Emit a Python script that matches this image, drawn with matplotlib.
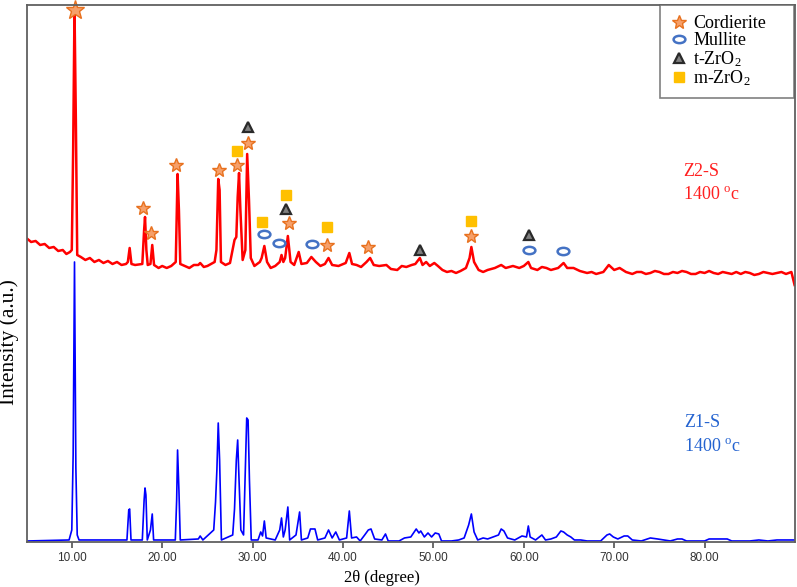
import numpy as np
import matplotlib
matplotlib.use("Agg")
import matplotlib.pyplot as plt
from matplotlib.lines import Line2D
from matplotlib.path import Path
from matplotlib.transforms import Affine2D

plt.rcParams['font.family'] = ['Liberation Serif', 'DejaVu Serif']
plt.rcParams['mathtext.fontset'] = 'custom'
plt.rcParams['mathtext.rm'] = 'Liberation Serif'
plt.rcParams['mathtext.it'] = 'Liberation Serif:italic'

# Z1-S pattern (2theta, intensity a.u.)
z1_pts = [(5.1, 1), (9.7, 2), (10.0, 12), (10.15, 87), (10.3, 280), (10.45, 74), (10.6, 7), (10.8, 2),
          (16.1, 2), (16.3, 32), (16.4, 33), (16.55, 2), (17.8, 2), (18.0, 42), (18.1, 54), (18.2, 47),
          (18.35, 2), (18.7, 12), (18.9, 28), (19.05, 2), (21.45, 2), (21.6, 42), (21.7, 92), (21.85, 52),
          (22.0, 2), (24.0, 3), (24.2, 6), (24.5, 2), (25.7, 12), (25.9, 40), (26.05, 72), (26.2, 119),
          (26.35, 82), (26.55, 2), (27.8, 7), (28.0, 33), (28.2, 82), (28.35, 102), (28.5, 62), (28.7, 12),
          (29.0, 7), (29.2, 72), (29.35, 124), (29.5, 122), (29.65, 62), (29.85, 2), (30.6, 2), (30.9, 10),
          (31.1, 6), (31.3, 21), (31.5, 4), (32.5, 2), (33.0, 12), (33.2, 24), (33.4, 5), (33.6, 12),
          (33.9, 35), (34.1, 2), (34.8, 7), (35.2, 30), (35.4, 2), (36.1, 4), (36.4, 13), (36.9, 13),
          (37.2, 2), (38.0, 4), (38.4, 12), (38.8, 4), (39.2, 10), (39.6, 2), (40.4, 4), (40.7, 31),
          (40.95, 4), (41.5, 5), (41.9, 1), (42.4, 7), (42.8, 12), (43.1, 13), (43.5, 3), (44.3, 2),
          (44.7, 8), (45.0, 1), (46.2, 1), (46.8, 4), (47.5, 5), (48.1, 13), (48.4, 9), (48.6, 11),
          (49.0, 5), (49.4, 9), (49.8, 5), (50.2, 9), (50.6, 8), (50.9, 1), (52.0, 1), (52.8, 2),
          (53.4, 4), (53.9, 17), (54.2, 28), (54.5, 10), (54.9, 2), (55.5, 4), (56.0, 3), (56.6, 5),
          (57.2, 7), (57.5, 13), (57.8, 11), (58.2, 4), (59.0, 2), (59.8, 6), (60.3, 5), (60.5, 16),
          (60.7, 5), (61.3, 2), (62.0, 7), (62.4, 2), (63.0, 3), (63.6, 5), (64.1, 11), (64.4, 10),
          (64.8, 7), (65.2, 5), (65.6, 2), (66.3, 2), (67.0, 1), (68.5, 1), (69.2, 7), (69.5, 8),
          (69.9, 5), (70.4, 3), (71.1, 6), (71.5, 6), (72.0, 2), (73.0, 1), (74.0, 4), (74.8, 3),
          (75.5, 2), (76.2, 1), (77.0, 3), (77.5, 3), (78.0, 1), (80.0, 1), (80.5, 3), (81.5, 3),
          (82.5, 3), (83.0, 1), (85.0, 1), (86.0, 2), (87.0, 1), (88.0, 2), (89.0, 2), (90.0, 2)]

# Z2-S pattern, already stacked above Z1-S
z2_pts = [(5.1, 303), (5.5, 300), (6.0, 301), (6.5, 297), (7.0, 298), (7.5, 294), (8.0, 295), (8.5, 291),
          (9.0, 292), (9.4, 288), (9.8, 290), (10.0, 292), (10.15, 392),
          (10.3, 534), (10.45, 422), (10.6, 287), (11.0, 285), (11.5, 282), (12.0, 284), (12.5, 280),
          (13.0, 282), (13.5, 279), (14.0, 281), (14.5, 278),
          (15.0, 280), (15.5, 277), (16.0, 278), (16.2, 280), (16.4, 294), (16.6, 278), (17.0, 277), (17.8, 278),
          (18.0, 312), (18.1, 325), (18.25, 292), (18.4, 277), (18.7, 278), (18.9, 297), (19.1, 277),
          (19.6, 274), (20.0, 276), (20.5, 274), (21.0, 276), (21.5, 280), (21.7, 368), (21.85, 332), (22.0, 278),
          (22.5, 276), (23.0, 274),
          (23.5, 277), (24.0, 277), (24.2, 279), (24.6, 275), (25.0, 276), (25.8, 280), (26.0, 292), (26.2, 363),
          (26.35, 352), (26.5, 280), (27.0, 277), (27.5, 279), (28.0, 302), (28.2, 305), (28.35, 345),
          (28.5, 369), (28.65, 332), (28.9, 282), (29.2, 292), (29.4, 388), (29.6, 342), (29.8, 284),
          (30.2, 276), (30.8, 280), (31.0, 284), (31.3, 296), (31.6, 280), (32.0, 274), (32.5, 276),
          (33.0, 280), (33.2, 287), (33.4, 280), (33.6, 284), (33.9, 306), (34.2, 280), (34.6, 277),
          (35.1, 290), (35.4, 278), (36.0, 279), (36.5, 285), (37.0, 280), (37.5, 276), (38.0, 278),
          (38.4, 284), (38.8, 277), (39.5, 276), (40.3, 279), (40.7, 289), (41.0, 278), (41.5, 277),
          (42.0, 275), (42.6, 280), (43.0, 284), (43.4, 277), (44.0, 276), (44.8, 277), (45.3, 273),
          (46.0, 272), (46.5, 276), (47.0, 275), (47.6, 277), (48.0, 278), (48.5, 284), (48.8, 277),
          (49.2, 280), (49.6, 276), (50.1, 279), (50.5, 276), (51.0, 272), (51.5, 270), (52.0, 271),
          (52.5, 269), (53.0, 271), (53.6, 274),
          (54.0, 284), (54.2, 295), (54.5, 280), (55.0, 272), (55.5, 270), (56.0, 272), (56.8, 274), (57.5, 277),
          (58.0, 274), (58.8, 276), (59.5, 274), (60.0, 276), (60.5, 280), (60.8, 274), (61.5, 272),
          (62.0, 275), (62.5, 274), (63.0, 272), (63.8, 274), (64.4, 279), (64.8, 274), (65.5, 274),
          (66.2, 271), (67.0, 269), (67.5, 270), (68.0, 268), (68.8, 270), (69.4, 277), (70.0, 272),
          (70.6, 274), (71.3, 270), (72.0, 268), (72.5, 270), (73.0, 270), (73.5, 268), (74.0, 269),
          (74.5, 271), (75.0, 270), (75.5, 268), (76.0, 268), (76.5, 270), (77.0, 269), (77.5, 271),
          (78.0, 270), (78.5, 268), (79.0, 268), (79.5, 270), (80.0, 269), (80.5, 271), (81.0, 269),
          (81.5, 268), (82.0, 270), (82.5, 269), (83.0, 268), (83.5, 270), (84.0, 268), (84.5, 270),
          (85.0, 269), (85.5, 267), (86.0, 268), (86.5, 270), (87.0, 269), (87.5, 268), (88.0, 269),
          (88.5, 270), (89.0, 268), (89.6, 270), (89.95, 257)]

# phase markers on Z2-S (2theta, height)
cordierite = [(17.89, 334), (18.77, 309), (21.56, 377), (26.31, 372), (28.30, 377), (29.52, 399),
              (33.99, 319), (38.24, 297), (42.78, 295), (54.17, 306)]
cordierite_main = [(10.37, 532)]
mullite = [(31.27, 308), (32.93, 299), (36.58, 298), (60.59, 292), (64.35, 291)]
t_zro2 = [(29.50, 415), (33.71, 333), (48.53, 292), (60.59, 307)]
m_zro2 = [(28.29, 391), (31.05, 320), (33.71, 347), (38.24, 315), (54.17, 321)]

xticks = [10, 20, 30, 40, 50, 60, 70, 80]

star_kw = dict(marker='*', mfc='#f6a06a', mec='#e8711f', mew=1.0, ls='none')
ell = Affine2D().scale(1.0, 0.62).transform_path(Path.unit_circle())
mull_kw = dict(marker=ell, mfc='none', mec='#4472c4', mew=1.8, ls='none', ms=8.5)
tri_kw = dict(marker='^', mfc='#808080', mec='#2a2a2a', mew=1.6, ls='none', ms=7.5)
sq_kw = dict(marker='s', mfc='#ffc000', mec='#ffc000', ls='none', ms=6.5)

fig = plt.figure(figsize=(7.97, 5.87), dpi=100)
ax = fig.add_axes([0.0345, 0.0767, 0.963, 0.9148])

z1 = np.array(z1_pts)
z2 = np.array(z2_pts)
ax.plot(z1[:, 0], z1[:, 1], color='#0000ff', lw=1.2)
ax.plot(z2[:, 0], z2[:, 1], color='#ff0000', lw=1.8)

c = np.array(cordierite)
ax.plot(c[:, 0], c[:, 1], ms=10.5, **star_kw)
cm_ = np.array(cordierite_main)
ax.plot(cm_[:, 0], cm_[:, 1], ms=14, clip_on=False, **star_kw)
m = np.array(mullite)
ax.plot(m[:, 0], m[:, 1], **mull_kw)
t = np.array(t_zro2)
ax.plot(t[:, 0], t[:, 1], **tri_kw)
s = np.array(m_zro2)
ax.plot(s[:, 0], s[:, 1], **sq_kw)

ax.text(77.6, 370, 'Z2-S', color='#ff2020', fontsize=13, va='center')
ax.text(77.6, 347, r'1400 $^{\mathrm{o}}$c', color='#ff2020', fontsize=13, va='center')
ax.text(77.7, 119, 'Z1-S', color='#2463d0', fontsize=13, va='center')
ax.text(77.7, 95, r'1400 $^{\mathrm{o}}$c', color='#2463d0', fontsize=13, va='center')

ax.set_xlim(5.1, 90)
ax.set_ylim(0, 537)
ax.set_xticks(xticks)
ax.set_xticklabels(['%.2f' % v for v in xticks], fontfamily='Liberation Sans', fontsize=8.5,
                   color='#333333')
ax.set_yticks([])
ax.tick_params(axis='x', direction='out', length=4, width=1.2, color='#505050', pad=3)
for sp in ax.spines.values():
    sp.set_color('#606060')
    sp.set_linewidth(1.3)

ax.set_xlabel('2θ (degree)', fontsize=12)
ax.xaxis.set_label_coords(0.462, -0.052)
ax.xaxis.label.set_va('top')
ax.set_ylabel('Intensity (a.u.)', fontsize=15.5)
ax.yaxis.set_label_coords(-0.011, 0.372)

handles = [Line2D([], [], ms=10.5, **star_kw),
           Line2D([], [], **mull_kw),
           Line2D([], [], **tri_kw),
           Line2D([], [], **sq_kw)]
labels = ['Cordierite', 'Mullite', r't-ZrO$_2$', r'm-ZrO$_2$']
leg = ax.legend(handles, labels, loc='upper left', bbox_to_anchor=(0.824, 1.0, 0.1746, 0.0),
                mode='expand', borderaxespad=0, fontsize=13, frameon=True, fancybox=False,
                edgecolor='#606060', labelspacing=0.0, handlelength=1.0, handletextpad=0.3,
                borderpad=0.55)
leg.get_frame().set_linewidth(1.2)

fig.savefig('out.png', dpi=100)
